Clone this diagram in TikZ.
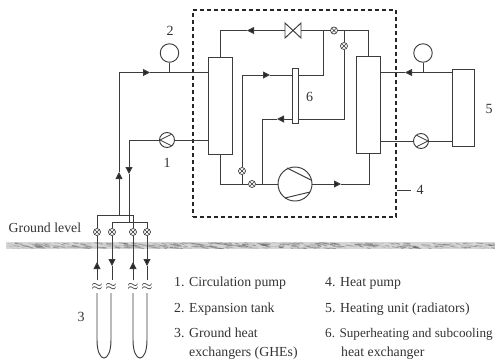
\documentclass[tikz,border=0pt]{standalone}
\usepackage{fontspec}
\setmainfont{Liberation Serif}
\usetikzlibrary{arrows.meta}
\definecolor{ink}{HTML}{3C3C3C}
\begin{document}
\begin{tikzpicture}[x=1pt,y=-1pt,
  line/.style={draw=ink,line width=0.95pt},
  flow/.style={line,-{Triangle[length=7pt,width=7pt,fill=black!85]}},
  hx/.style={line,fill=white,rectangle,inner sep=0pt},
  vlv/.style={line,circle,fill=white,minimum size=7pt,inner sep=0pt,line width=0.7pt,
    path picture={\draw[ink,line width=0.6pt]
      (path picture bounding box.north west)--(path picture bounding box.south east)
      (path picture bounding box.north east)--(path picture bounding box.south west);
      \fill[ink] (path picture bounding box.center) circle (0.6pt);}},
  tank/.style={line,circle,fill=white,minimum size=18.5pt,inner sep=0pt},
  pumpl/.style={line,circle,fill=white,minimum size=15pt,inner sep=0pt,
    path picture={\draw[ink,line width=0.8pt,shift={(path picture bounding box.center)}] (6,-6.5)--(-7,0)--(6,6.5);}},
  pumpr/.style={line,circle,fill=white,minimum size=15pt,inner sep=0pt,
    path picture={\draw[ink,line width=0.8pt,shift={(path picture bounding box.center)}] (-6,-6.5)--(7,0)--(-6,6.5);}},
  lbl/.style={text=black!80,font=\fontsize{14}{14}\selectfont,inner sep=0pt},
  txt/.style={text=black!80,font=\fontsize{13.8}{14}\selectfont,inner sep=0pt,anchor=base west},
  sq/.style={font=\fontsize{13.5}{14}\selectfont,fill=white,inner sep=0pt,text=black!85}]
\useasboundingbox (0,0) rectangle (495,360);
\clip (0,0) rectangle (495,360);
% ground band
\fill[black!16] (6,242) rectangle (495,248.5);
\pgfmathsetseed{7}
\foreach \i in {1,...,420}{
  \pgfmathsetmacro\xa{6+rnd*489}
  \pgfmathsetmacro\ya{242.5+rnd*5.5}
  \pgfmathsetmacro\da{2+rnd*6}
  \pgfmathsetmacro\sh{rnd>0.5?30:60}
  \draw[black!\sh,line width=0.9pt,opacity=0.5,line cap=round] (\xa,\ya)--++(\da,0.7);
}
% heat pump boundary
\node[draw=black!85,line width=1.25pt,dash pattern=on 4pt off 3pt,minimum width=203pt,minimum height=207pt,inner sep=0pt] (hpbox) at (294.5,113.5) {};
% main components
\node[hx,minimum width=24pt,minimum height=97pt] (evap) at (220,105.5) {};
\node[hx,minimum width=24pt,minimum height=97pt] (cond) at (368.5,105) {};
\node[hx,minimum width=6pt,minimum height=55pt] (shx) at (295,96) {};
\node[hx,minimum width=22pt,minimum height=77pt] (rad) at (463,107.5) {};
\node[tank] (tankL) at (169.5,53) {};
\node[tank] (tankR) at (423,53) {};
\node[pumpl] (pumpL) at (167,140) {};
\node[pumpr] (pumpR) at (421,141) {};
\node[line,circle,fill=white,minimum size=34pt,inner sep=0pt] (comp) at (295,184) {};
\draw[line] (287,168)--(311,180) (285,198)--(310,192);
% valves
\node[vlv] (vA) at (334,30.5) {};
\node[vlv] (vB) at (344,46) {};
\node[vlv] (vC) at (242,171) {};
\node[vlv] (vD) at (252,184) {};
\node[vlv] (g1) at (97,232) {};
\node[vlv] (g2) at (112,232) {};
\node[vlv] (g3) at (133,232) {};
\node[vlv] (g4) at (147,232) {};
% routing points
\coordinate (c1) at (220,30.5);
\coordinate (c2) at (247,30.5);
\coordinate (c3) at (285,30.5);
\coordinate (c4) at (301,30.5);
\coordinate (c5) at (323,30.5);
\coordinate (c6) at (344,30.5);
\coordinate (c7) at (368.5,30.5);
\coordinate (c8) at (323,75);
\coordinate (c9) at (242,75);
\coordinate (c10) at (270,75);
\coordinate (c11) at (344,119);
\coordinate (c12) at (262,119);
\coordinate (c13) at (277,119);
\coordinate (c14) at (262,184);
\coordinate (c15) at (220,184);
\coordinate (c16) at (242,184);
\coordinate (c17) at (341,184);
\coordinate (c18) at (369,184);
\coordinate (l1) at (119,72.5);
\coordinate (l2) at (150,72.5);
\coordinate (l3) at (169.5,72.5);
\coordinate (l4) at (129,140);
\coordinate (l5) at (119,172);
\coordinate (l6) at (129,174);
\coordinate (l7) at (119,215);
\coordinate (l8) at (129,222);
\coordinate (r1) at (405,72.5);
\coordinate (r2) at (423,72.5);
\coordinate (b1) at (97,215);
\coordinate (b2) at (133,215);
\coordinate (b3) at (112,222);
\coordinate (b4) at (147,222);
\coordinate (e1) at (97,262);
\coordinate (e2) at (112,266);
\coordinate (e3) at (133,262);
\coordinate (e4) at (147,266);
\coordinate (f1) at (97,280);
\coordinate (f2) at (112,280);
\coordinate (f3) at (133,280);
\coordinate (f4) at (147,280);
\coordinate (h1) at (97,293);
\coordinate (h2) at (111,293);
\coordinate (h3) at (133,293);
\coordinate (h4) at (147,293);
% expansion valve symbol
\draw[line,fill=white] (285,23)--(301,38)--(301,23)--(285,38)--cycle;
% refrigerant circuit
\draw[line] (evap.north -| c1) -- (c1);
\draw[flow] (c3) -- (c2);
\draw[line] (c2) -- (c1);
\draw[line] (c4) -- (c5) -- (vA) -- (c6) -- (c7) -- (cond.north -| c7);
\draw[line] (c5) -- (c8) -- (shx.east |- c8);
\draw[line] (c6) -- (vB) -- (c11) -- (shx.east |- c11);
\draw[flow] (shx.west |- c13) -- (c13);
\draw[line] (c13) -- (c12) -- (c14);
\draw[flow] (c9) -- (c10);
\draw[line] (c10) -- (shx.west |- c10);
\draw[line] (c9) -- (vC) -- (c16);
\draw[line] (evap.south -| c15) -- (c15) -- (vD) -- (comp);
\draw[flow] (comp) -- (c17);
\draw[line] (c17) -- (c18) -- (cond.south -| c18);
% source side
\draw[flow] (l1) -- (l2);
\draw[line] (l2) -- (evap.west |- l1);
\draw[line] (tankL) -- (l3);
\draw[line] (evap.west |- pumpL) -- (pumpL) -- (l4);
\draw[flow] (l4) -- (l6);
\draw[line] (l6) -- (l8);
\draw[flow] (l7) -- (l5);
\draw[line] (l5) -- (l1);
% load side
\draw[flow] (rad.west |- r1) -- (r1);
\draw[line] (r1) -- (cond.east |- r1);
\draw[line] (tankR) -- (r2);
\draw[line] (cond.east |- pumpR) -- (pumpR) -- (rad.west |- pumpR);
% ground manifolds
\draw[line] (g1) -- (b1) -- (b2) -- (g3);
\draw[line] (g2) -- (b3) -- (b4) -- (g4);
% ground loops
\draw[line] (f1) -- (g1);
\draw[flow] (f1) -- (e1);
\draw[flow] (g2) -- (e2);
\draw[line] (e2) -- (f2);
\draw[line] (f3) -- (g3);
\draw[flow] (f3) -- (e3);
\draw[flow] (g4) -- (e4);
\draw[line] (e4) -- (f4);
\node[sq] (w1) at (97,287) {$\approx$};
\node[sq] (w2) at (111,287.5) {$\approx$};
\node[sq] (w3) at (133,287) {$\approx$};
\node[sq] (w4) at (147,287) {$\approx$};
\draw[line] (h1) -- ++(0,47) .. controls (97,364) and (111,364) .. ++(14,0) -- (h2);
\draw[line] (h3) -- ++(0,47) .. controls (133,364) and (147,364) .. ++(14,0) -- (h4);
% leader for 4
\coordinate (t4) at (411,190);
\draw[line] (hpbox.east |- t4) -- (t4);
% labels
\node[lbl] (n1) at (167,163) {1};
\node[lbl] (n2) at (170,31) {2};
\node[lbl] (n3) at (81,317) {3};
\node[lbl] (n4) at (420,190) {4};
\node[lbl] (n5) at (489,109) {5};
\node[lbl] (n6) at (309.5,97) {6};
\node[txt] (gl) at (8.5,232) {Ground level};
\node[txt] (t1) at (174,286) {1. Circulation pump};
\node[txt] (t2) at (174,312) {2. Expansion tank};
\node[txt] (t3) at (174,337) {3. Ground heat};
\node[txt] (t3b) at (189,356) {exchangers (GHEs)};
\node[txt] (t4b) at (325,286) {4. Heat pump};
\node[txt] (t5) at (325,312) {5. Heating unit (radiators)};
\node[txt,font=\fontsize{13.2}{14}\selectfont] (t6) at (325,337) {6. Superheating and subcooling};
\node[txt] (t6b) at (341,356) {heat exchanger};
\end{tikzpicture}
\end{document}
